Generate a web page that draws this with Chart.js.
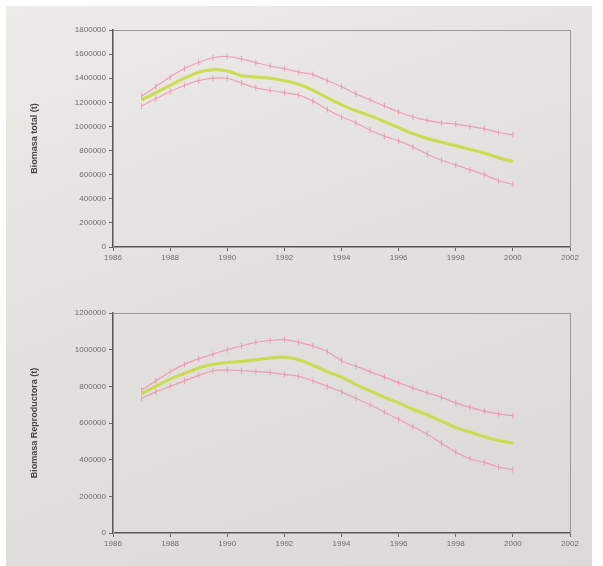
<!DOCTYPE html>
<html lang="es">
  <head>
    <meta charset="UTF-8" />
    <title>Biomasa</title>
    <script src="https://cdn.jsdelivr.net/npm/chart.js"></script>
    <style>
      body {
        margin: 0;
        background: #ffffff;
        font-family: Arial, sans-serif;
      }
      .panel {
        position: absolute;
        left: 6px;
        top: 6px;
        width: 586px;
        height: 560px;
        background: linear-gradient(160deg, #ecebe8 0%, #e3e1de 45%, #dcdad6 100%);
      }
      .box {
        position: absolute;
        left: 0;
        width: 603px;
        height: 283px;
      }
      canvas {
        filter: blur(0.4px);
      }
    </style>
  </head>
  <body>
    <div class="panel"></div>
    <div class="box" style="top: 0"><canvas id="chartTotal"></canvas></div>
    <div class="box" style="top: 283px"><canvas id="chartRepro"></canvas></div>

    <script>
      // semi-annual years, 1987 - 2000
      const years = [
        1987, 1987.5, 1988, 1988.5, 1989, 1989.5, 1990, 1990.5, 1991, 1991.5, 1992, 1992.5, 1993,
        1993.5, 1994, 1994.5, 1995, 1995.5, 1996, 1996.5, 1997, 1997.5, 1998, 1998.5, 1999, 1999.5,
        2000,
      ]

      // Biomasa total (t)
      const totalMid = [
        1220000, 1280000, 1340000, 1400000, 1450000, 1470000, 1460000, 1420000, 1410000, 1400000,
        1380000, 1350000, 1300000, 1240000, 1180000, 1130000, 1090000, 1040000, 990000, 940000,
        900000, 870000, 840000, 810000, 780000, 740000, 710000,
      ]
      const totalHigh = [
        1250000, 1330000, 1410000, 1480000, 1530000, 1570000, 1580000, 1560000, 1530000, 1500000,
        1480000, 1450000, 1430000, 1380000, 1330000, 1270000, 1220000, 1170000, 1120000, 1080000,
        1050000, 1030000, 1020000, 1000000, 980000, 950000, 930000,
      ]
      const totalLow = [
        1170000, 1230000, 1290000, 1340000, 1380000, 1400000, 1400000, 1360000, 1320000, 1300000,
        1280000, 1260000, 1210000, 1140000, 1080000, 1030000, 970000, 920000, 880000, 830000,
        770000, 720000, 680000, 640000, 600000, 550000, 520000,
      ]

      // Biomasa reproductora (t)
      const reproMid = [
        760000, 800000, 840000, 870000, 900000, 920000, 930000, 935000, 945000, 955000, 960000,
        945000, 915000, 880000, 850000, 810000, 775000, 740000, 710000, 675000, 645000, 610000,
        575000, 550000, 525000, 505000, 490000,
      ]
      const reproHigh = [
        780000, 830000, 880000, 920000, 950000, 975000, 1000000, 1020000, 1040000, 1050000,
        1055000, 1040000, 1020000, 990000, 940000, 910000, 880000, 850000, 820000, 790000, 765000,
        740000, 710000, 685000, 665000, 650000, 640000,
      ]
      const reproLow = [
        735000, 770000, 800000, 830000, 860000, 885000, 890000, 885000, 880000, 875000, 865000,
        855000, 830000, 800000, 770000, 735000, 700000, 660000, 620000, 580000, 540000, 490000,
        440000, 405000, 385000, 360000, 345000,
      ]

      const xTicks = [1986, 1988, 1990, 1992, 1994, 1996, 1998, 2000, 2002]

      const pts = (vals) => years.map((y, i) => ({ x: y, y: vals[i] }))

      // frame around the plot area
      const frame = {
        id: 'frame',
        beforeDatasetsDraw(chart) {
          const { ctx, chartArea: a } = chart
          ctx.save()
          ctx.strokeStyle = '#9a9896'
          ctx.lineWidth = 1
          ctx.strokeRect(a.left + 0.5, a.top + 0.5, a.right - a.left, a.bottom - a.top)
          ctx.restore()
        },
      }

      function makeChart(id, title, yMax, mid, high, low, xHeight) {
        const pink = 'rgba(240, 135, 165, 0.75)'
        return new Chart(document.getElementById(id), {
          type: 'line',
          data: {
            datasets: [
              {
                data: pts(high),
                borderColor: pink,
                borderWidth: 1.2,
                pointStyle: 'line',
                rotation: 90,
                pointRadius: 3,
                pointBorderColor: pink,
                pointBorderWidth: 1,
                tension: 0.3,
              },
              {
                data: pts(low),
                borderColor: pink,
                borderWidth: 1.2,
                pointStyle: 'line',
                rotation: 90,
                pointRadius: 3,
                pointBorderColor: pink,
                pointBorderWidth: 1,
                tension: 0.3,
              },
              {
                data: pts(mid),
                borderColor: 'rgba(200, 218, 60, 0.9)',
                borderWidth: 3,
                pointRadius: 0,
                tension: 0.3,
              },
            ],
          },
          options: {
            responsive: true,
            maintainAspectRatio: false,
            animation: false,
            layout: { padding: { top: 30, right: 33, left: 29, bottom: 0 } },
            plugins: { legend: { display: false }, tooltip: { enabled: false } },
            scales: {
              x: {
                type: 'linear',
                min: 1986,
                max: 2002,
                afterBuildTicks: (s) => {
                  s.ticks = xTicks.map((v) => ({ value: v }))
                },
                afterFit: (s) => {
                  s.height = xHeight
                },
                grid: {
                  drawOnChartArea: false,
                  color: '#6a6866',
                  tickLength: 4,
                },
                border: { color: '#5a5856', width: 1.5 },
                ticks: {
                  color: '#6e6c6a',
                  font: { size: 8, family: 'Arial' },
                  padding: 2,
                  maxRotation: 0,
                  autoSkip: false,
                  callback: (v) => String(v),
                },
              },
              y: {
                min: 0,
                max: yMax,
                afterFit: (s) => {
                  s.width = 84
                },
                grid: {
                  drawOnChartArea: false,
                  color: '#6a6866',
                  tickLength: 4,
                },
                border: { color: '#5a5856', width: 1.5 },
                ticks: {
                  stepSize: 200000,
                  color: '#6e6c6a',
                  font: { size: 8, family: 'Arial' },
                  padding: 3,
                  callback: (v) => String(v),
                },
                title: {
                  display: true,
                  text: title,
                  color: '#4a4846',
                  font: { size: 9, weight: 'bold', family: 'Arial' },
                  padding: { top: 0, bottom: 4 },
                },
              },
            },
          },
          plugins: [frame],
        })
      }

      makeChart('chartTotal', 'Biomasa total (t)', 1800000, totalMid, totalHigh, totalLow, 36)
      makeChart('chartRepro', 'Biomasa Reproductora (t)', 1200000, reproMid, reproHigh, reproLow, 33)
    </script>
  </body>
</html>
